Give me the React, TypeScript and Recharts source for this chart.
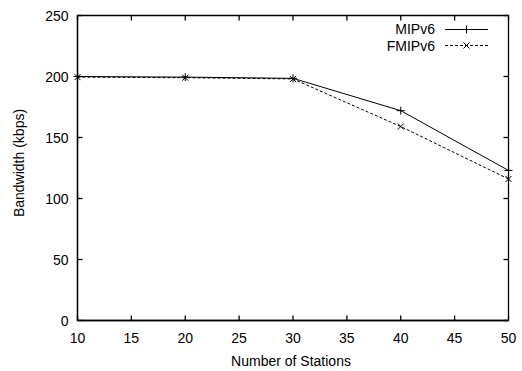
import React from "react";
import { Line, LineChart, ReferenceArea, XAxis, YAxis } from "recharts";

const stations = [10, 20, 30, 40, 50];
const mipv6 = [200, 199.5, 198.5, 172, 123];
const fmipv6 = [199.5, 199, 198, 159, 116];
const xTicks = [10, 15, 20, 25, 30, 35, 40, 45, 50];
const yTicks = [0, 50, 100, 150, 200, 250];

const data = stations.map((s, i) => ({ stations: s, mipv6: mipv6[i], fmipv6: fmipv6[i] }));

const FONT = "'Liberation Sans', Arial, Helvetica, sans-serif";
// plot box size, used to mirror the tick marks on the top and right edges
const PLOT_W = 431;
const PLOT_H = 305;
const FRAME = 1.3;

const PlusDot = (props: any) => {
  const { cx, cy } = props;
  if (cx == null || cy == null) return null;
  return (
    <g>
      <line x1={cx - 4} y1={cy} x2={cx + 4} y2={cy} stroke="#000" />
      <line x1={cx} y1={cy - 4} x2={cx} y2={cy + 4} stroke="#000" />
    </g>
  );
};

const CrossDot = (props: any) => {
  const { cx, cy } = props;
  if (cx == null || cy == null) return null;
  return (
    <g>
      <line x1={cx - 3} y1={cy - 3} x2={cx + 3} y2={cy + 3} stroke="#000" />
      <line x1={cx - 3} y1={cy + 3} x2={cx + 3} y2={cy - 3} stroke="#000" />
    </g>
  );
};

const BottomTick = ({ x, y, payload }: any) => (
  <g>
    <line x1={x} y1={y} x2={x} y2={y - 5} stroke="#000" strokeWidth={FRAME} />
    <line x1={x} y1={y - PLOT_H} x2={x} y2={y - PLOT_H + 5} stroke="#000" strokeWidth={FRAME} />
    <text x={x} y={y + 22} textAnchor="middle" fontSize={14} fontFamily={FONT} fill="#000">
      {payload.value}
    </text>
  </g>
);

const LeftTick = ({ x, y, payload }: any) => (
  <g>
    <line x1={x} y1={y} x2={x + 5} y2={y} stroke="#000" strokeWidth={FRAME} />
    <line x1={x + PLOT_W} y1={y} x2={x + PLOT_W - 5} y2={y} stroke="#000" strokeWidth={FRAME} />
    <text x={x - 9} y={y + 5} textAnchor="end" fontSize={14} fontFamily={FONT} fill="#000">
      {payload.value}
    </text>
  </g>
);

const LegendBox = () => (
  <svg width={522} height={60} style={{ position: "absolute", left: 0, top: 0, pointerEvents: "none" }}>
    <text x={435} y={34} textAnchor="end" fontSize={14} fontFamily={FONT} fill="#000">MIPv6</text>
    <line x1={445} y1={29.5} x2={488} y2={29.5} stroke="#000" />
    <PlusDot cx={466.5} cy={29.5} />
    <text x={435} y={51} textAnchor="end" fontSize={14} fontFamily={FONT} fill="#000">FMIPv6</text>
    <line x1={445} y1={45.5} x2={488} y2={45.5} stroke="#000" strokeDasharray="3 2" />
    <CrossDot cx={466.5} cy={45.5} />
  </svg>
);

export default function App() {
  return (
    <div style={{ position: "absolute", left: 0, top: 0, width: 522, height: 371, background: "#fff" }}>
      <LineChart width={522} height={371} data={data} margin={{ top: 15.5, right: 13.5, bottom: 20.5, left: 0.5 }}>
        <XAxis
          dataKey="stations"
          type="number"
          domain={[10, 50]}
          ticks={xTicks}
          height={30}
          tickLine={false}
          tickSize={0}
          tickMargin={0}
          axisLine={{ stroke: "#000", strokeWidth: FRAME }}
          tick={<BottomTick />}
          interval={0}
        />
        <YAxis
          type="number"
          domain={[0, 250]}
          ticks={yTicks}
          width={77}
          tickLine={false}
          tickSize={0}
          tickMargin={0}
          axisLine={{ stroke: "#000", strokeWidth: FRAME }}
          tick={<LeftTick />}
          interval={0}
        />
        <ReferenceArea x1={10} x2={50} y1={0} y2={250} fill="none" stroke="#000" strokeWidth={FRAME} />
        <Line
          dataKey="mipv6"
          stroke="#000"
          strokeWidth={1}
          dot={<PlusDot />}
          activeDot={false}
          isAnimationActive={false}
        />
        <Line
          dataKey="fmipv6"
          stroke="#000"
          strokeWidth={1}
          strokeDasharray="3 2"
          dot={<CrossDot />}
          activeDot={false}
          isAnimationActive={false}
        />
        <text x={291} y={366} textAnchor="middle" fontSize={14} fontFamily={FONT} fill="#000">
          Number of Stations
        </text>
        <text x={24} y={163} textAnchor="middle" fontSize={14} fontFamily={FONT} fill="#000" transform="rotate(-90 24 163)">
          Bandwidth (kbps)
        </text>
      </LineChart>
      <LegendBox />
    </div>
  );
}
